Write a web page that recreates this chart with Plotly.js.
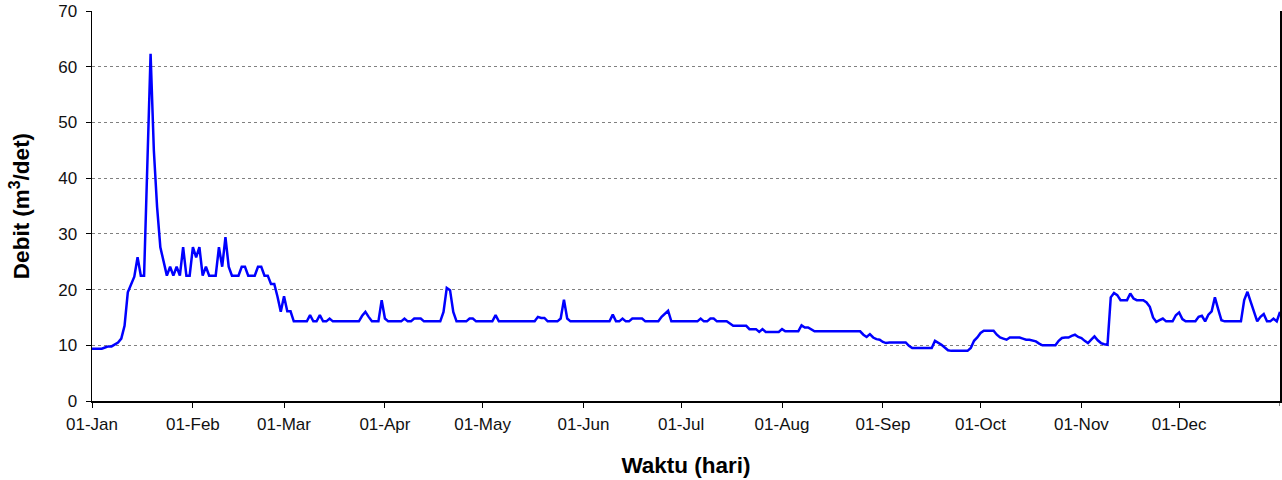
<!DOCTYPE html>
<html>
<head>
<meta charset="utf-8">
<script src="https://cdn.plot.ly/plotly-3.0.1.min.js"></script>
<style>html,body{margin:0;padding:0;background:#fff;}#chart{width:1282px;height:480px;}</style>
</head>
<body>
<div id="chart"></div>
<script>
// Daily discharge (m3/det), day 0 = 01-Jan
const startDate = "2001-01-01";
const debit = [
  9.4,9.4,9.4,9.4,9.6,9.8,9.8,10.2,10.5,11.2,
  13.5,19.5,20.8,22.3,25.8,22.5,22.5,42.5,62.3,45,
  34.8,27.6,25.2,22.5,24.1,22.5,24.1,22.5,27.6,22.5,
  22.5,27.6,25.8,27.6,22.5,24.1,22.5,22.5,22.5,27.6,
  24.1,29.4,24.1,22.5,22.5,22.5,24.1,24.1,22.5,22.5,
  22.5,24.1,24.1,22.5,22.5,21,21,18.7,16,18.8,
  16.1,16.1,14.3,14.3,14.3,14.3,14.3,15.4,14.3,14.3,
  15.4,14.3,14.3,14.8,14.3,14.3,14.3,14.3,14.3,14.3,
  14.3,14.3,14.3,15.3,16.0,15.1,14.3,14.3,14.3,18.1,
  14.8,14.3,14.3,14.3,14.3,14.3,14.8,14.3,14.3,14.8,
  14.8,14.8,14.3,14.3,14.3,14.3,14.3,14.3,16.0,20.3,
  19.9,16.0,14.3,14.3,14.3,14.3,14.8,14.8,14.3,14.3,
  14.3,14.3,14.3,14.3,15.4,14.3,14.3,14.3,14.3,14.3,
  14.3,14.3,14.3,14.3,14.3,14.3,14.3,15.1,14.9,14.9,
  14.3,14.3,14.3,14.3,14.8,18.2,14.8,14.3,14.3,14.3,
  14.3,14.3,14.3,14.3,14.3,14.3,14.3,14.3,14.3,14.3,
  15.5,14.3,14.3,14.8,14.3,14.3,14.8,14.8,14.8,14.8,
  14.3,14.3,14.3,14.3,14.3,15.1,15.7,16.2,14.3,14.3,
  14.3,14.3,14.3,14.3,14.3,14.3,14.3,14.8,14.3,14.3,
  14.8,14.8,14.3,14.3,14.3,14.3,13.9,13.5,13.5,13.5,
  13.5,13.5,12.9,12.9,12.9,12.4,12.9,12.4,12.4,12.4,
  12.4,12.4,12.9,12.5,12.5,12.5,12.5,12.5,13.6,13.2,
  13.2,12.8,12.5,12.5,12.5,12.5,12.5,12.5,12.5,12.5,
  12.5,12.5,12.5,12.5,12.5,12.5,12.5,11.9,11.5,12.0,
  11.4,11.1,11.0,10.6,10.4,10.5,10.5,10.5,10.5,10.5,
  10.5,9.9,9.5,9.5,9.5,9.5,9.5,9.5,9.5,10.8,
  10.5,10.1,9.6,9.1,9.0,9.0,9.0,9.0,9.0,9.0,
  9.5,10.8,11.4,12.2,12.6,12.6,12.6,12.6,11.9,11.4,
  11.2,11.0,11.4,11.4,11.4,11.4,11.2,11.0,11.0,10.9,
  10.7,10.3,10.0,10.0,10.0,10.0,10.0,10.8,11.3,11.4,
  11.4,11.7,11.9,11.5,11.3,10.8,10.4,11.0,11.6,10.9,
  10.4,10.2,10.1,18.6,19.4,19.0,18.1,18.1,18.1,19.3,
  18.4,18.1,18.1,18.1,17.7,16.9,15.0,14.2,14.5,14.8,
  14.3,14.3,14.3,15.4,15.9,14.7,14.3,14.3,14.3,14.3,
  15.1,15.3,14.3,15.5,16.1,18.6,16.5,14.5,14.3,14.3,
  14.3,14.3,14.3,14.3,18.1,19.6,17.8,16.0,14.3,15.1,
  15.6,14.3,14.3,14.8,14.3,16.0
];
const tickDates = ["2001-01-01","2001-02-01","2001-03-01","2001-04-01","2001-05-01","2001-06-01",
  "2001-07-01","2001-08-01","2001-09-01","2001-10-01","2001-11-01","2001-12-01"];
const tickLabels = ["01-Jan","01-Feb","01-Mar","01-Apr","01-May","01-Jun",
  "01-Jul","01-Aug","01-Sep","01-Oct","01-Nov","01-Dec"];
const yTicks = [0,10,20,30,40,50,60,70];

const t0 = new Date(startDate + "T00:00:00Z");
const dates = debit.map((_, i) => {
  const d = new Date(t0.getTime() + i * 86400000);
  return d.toISOString().slice(0, 10);
});

const font = "Liberation Sans, Arial, sans-serif";
const trace = {
  x: dates, y: debit, type: "scatter", mode: "lines",
  line: {color: "#0000FF", width: 2.5}, hoverinfo: "skip"
};
const layout = {
  width: 1282, height: 480,
  margin: {l: 92, r: 2, t: 11, b: 79},
  paper_bgcolor: "#fff", plot_bgcolor: "#fff",
  showlegend: false,
  font: {family: font, color: "#000", size: 17},
  xaxis: {
    type: "date", range: ["2001-01-01", "2002-01-01"],
    tickmode: "array", tickvals: tickDates, ticktext: tickLabels,
    ticks: "outside", ticklen: 5, tickcolor: "#000", tickwidth: 1,
    showline: true, linecolor: "#000", linewidth: 1.5,
    showgrid: false, zeroline: false,
    tickfont: {size: 17, family: font, color: "#111"},
    ticklabelstandoff: 2,
    title: {text: "<b>Waktu (hari)</b>", font: {size: 22.5, family: font}, standoff: 24}
  },
  yaxis: {
    range: [0, 70], tickmode: "array", tickvals: yTicks,
    ticks: "outside", ticklen: 5, tickcolor: "#000", tickwidth: 1,
    showline: true, linecolor: "#000", linewidth: 1.5, mirror: true,
    showgrid: true, gridcolor: "#808080", griddash: "dot", gridwidth: 1,
    zeroline: false,
    tickfont: {size: 17, family: font, color: "#111"},
    ticklabelstandoff: 5,
    title: {text: "<b>Debit (m<sup>3</sup>/det)</b>", font: {size: 22.5, family: font}, standoff: 22}
  },
  shapes: [{type: "line", xref: "x", yref: "paper", x0: "2002-01-01", x1: "2002-01-01",
    y0: 0, y1: -0.013, line: {color: "#000", width: 1}}]
};
Plotly.newPlot("chart", [trace], layout, {staticPlot: true, displayModeBar: false});
</script>
</body>
</html>
